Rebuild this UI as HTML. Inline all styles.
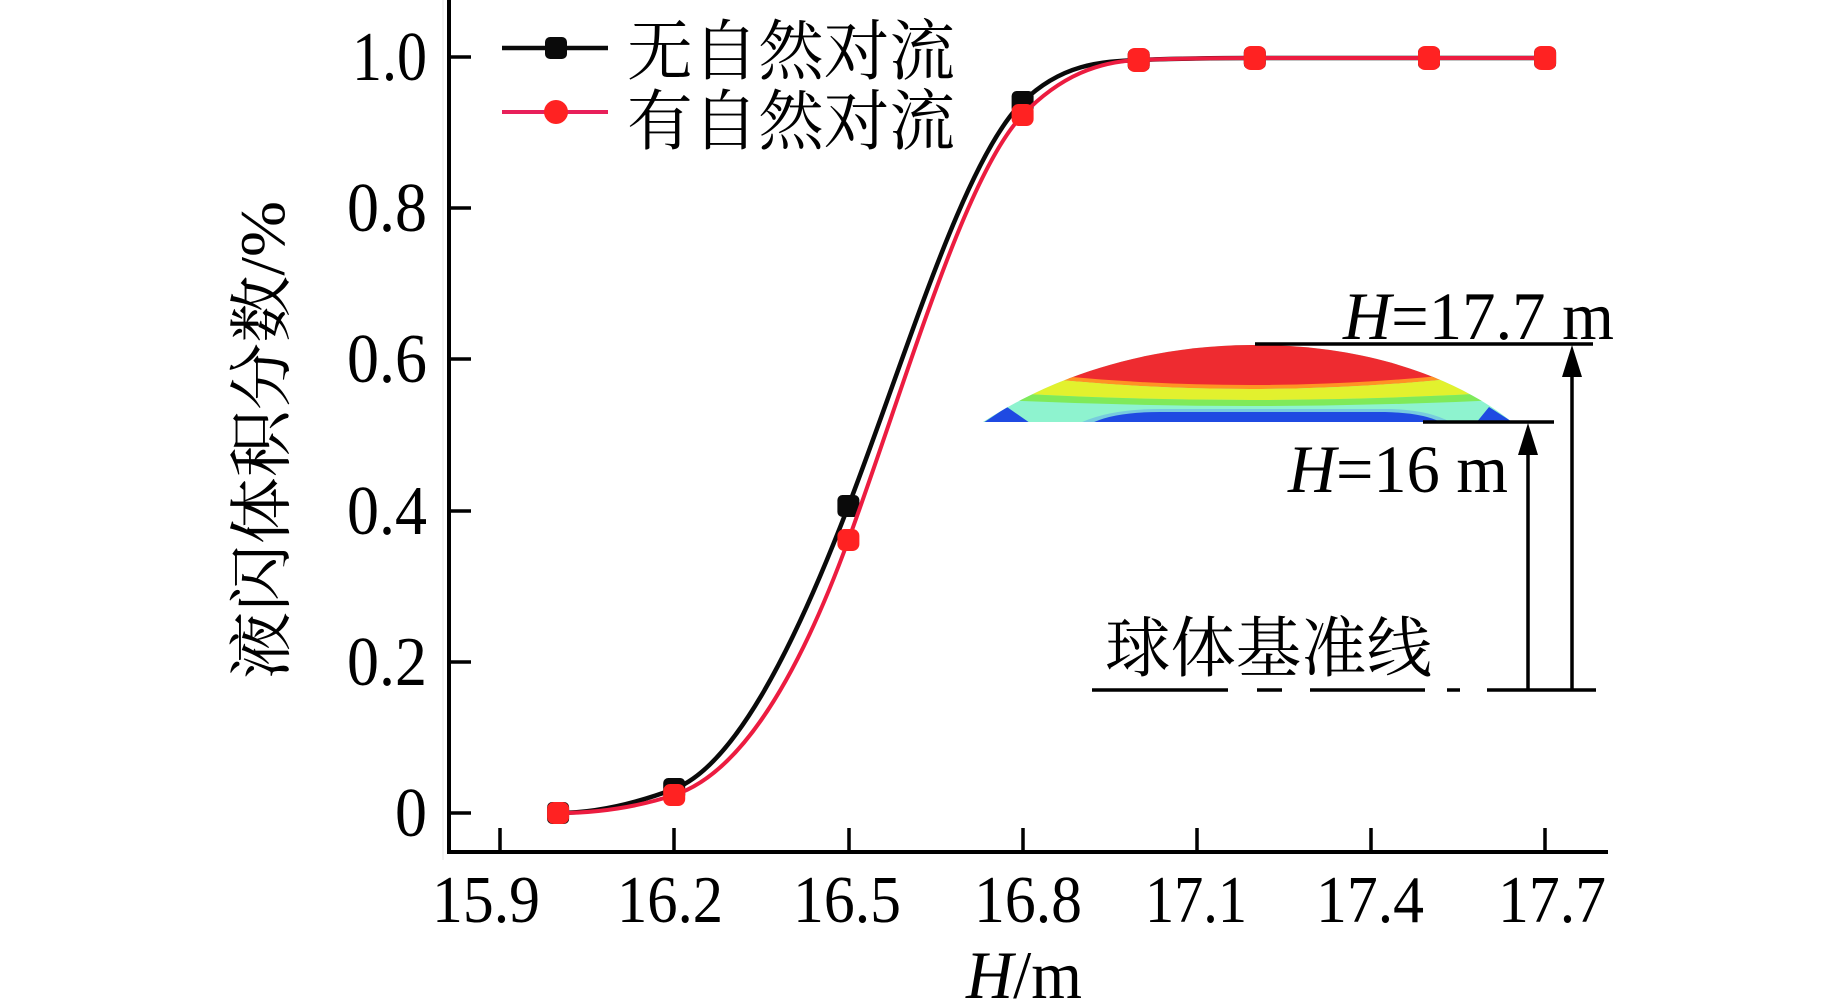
<!DOCTYPE html>
<html>
<head>
<meta charset="utf-8">
<style>
  html,body{margin:0;padding:0;background:#fff;}
  svg{display:block;}
  .num{font-family:"Liberation Serif","Times New Roman",serif;fill:#000;}
  .cjk{font-family:"Liberation Serif","Noto Serif CJK SC","Noto Sans CJK SC",serif;fill:#000;}
</style>
</head>
<body>
<svg width="1843" height="1004" viewBox="0 0 1843 1004" xmlns="http://www.w3.org/2000/svg">
  <defs>
    <clipPath id="dome">
      <path d="M983,422 C1040,385 1130,346 1250,345 C1370,344 1460,380 1512,422 Z"/>
    </clipPath>
  </defs>
  <rect width="1843" height="1004" fill="#fff"/>

  <!-- faint frame artifact -->
  <line x1="443" y1="0" x2="443" y2="860" stroke="#ededed" stroke-width="1.5"/>

  <!-- axes -->
  <path d="M449,0 V852 H1608" fill="none" stroke="#000" stroke-width="4"/>
  <g stroke="#000" stroke-width="3.5">
    <line x1="449" y1="57" x2="471" y2="57"/>
    <line x1="449" y1="208" x2="471" y2="208"/>
    <line x1="449" y1="359" x2="471" y2="359"/>
    <line x1="449" y1="511" x2="471" y2="511"/>
    <line x1="449" y1="662" x2="471" y2="662"/>
    <line x1="449" y1="813" x2="471" y2="813"/>
    <line x1="500" y1="852" x2="500" y2="828"/>
    <line x1="674" y1="852" x2="674" y2="828"/>
    <line x1="849" y1="852" x2="849" y2="828"/>
    <line x1="1023" y1="852" x2="1023" y2="828"/>
    <line x1="1197" y1="852" x2="1197" y2="828"/>
    <line x1="1371" y1="852" x2="1371" y2="828"/>
    <line x1="1545" y1="852" x2="1545" y2="828"/>
  </g>

  <!-- y tick labels -->
  <g class="num" font-size="70" text-anchor="end">
    <text x="427" y="80" textLength="75" lengthAdjust="spacingAndGlyphs">1.0</text>
    <text x="427" y="231" textLength="80" lengthAdjust="spacingAndGlyphs">0.8</text>
    <text x="427" y="382" textLength="80" lengthAdjust="spacingAndGlyphs">0.6</text>
    <text x="427" y="534" textLength="80" lengthAdjust="spacingAndGlyphs">0.4</text>
    <text x="427" y="685" textLength="80" lengthAdjust="spacingAndGlyphs">0.2</text>
    <text x="427" y="836" textLength="32" lengthAdjust="spacingAndGlyphs">0</text>
  </g>

  <!-- x tick labels -->
  <g class="num" font-size="67" text-anchor="middle">
    <text x="486" y="922" textLength="108" lengthAdjust="spacingAndGlyphs">15.9</text>
    <text x="670" y="922" textLength="106" lengthAdjust="spacingAndGlyphs">16.2</text>
    <text x="847" y="922" textLength="108" lengthAdjust="spacingAndGlyphs">16.5</text>
    <text x="1028" y="922" textLength="108" lengthAdjust="spacingAndGlyphs">16.8</text>
    <text x="1196" y="922" textLength="102" lengthAdjust="spacingAndGlyphs">17.1</text>
    <text x="1370" y="922" textLength="108" lengthAdjust="spacingAndGlyphs">17.4</text>
    <text x="1552" y="922" textLength="108" lengthAdjust="spacingAndGlyphs">17.7</text>
  </g>

  <!-- axis titles -->
  <text class="num" x="966" y="998" font-size="68" textLength="116" lengthAdjust="spacingAndGlyphs"><tspan font-style="italic">H</tspan>/m</text>
  <text class="cjk" transform="translate(284,679) rotate(-90)" font-size="64" textLength="478" lengthAdjust="spacingAndGlyphs">液闪体积分数/%</text>

  <!-- inset dome -->
  <g clip-path="url(#dome)">
    <rect x="970" y="330" width="560" height="100" fill="#8ef3cf"/>
    <path d="M960,330 L1540,330 L1540,366 Q1250,408 960,366 Z" fill="#ee2b30"/>
    <path d="M960,366 Q1250,408 1540,366" fill="none" stroke="#ff9324" stroke-width="4"/>
    <path d="M960,368 Q1250,410 1540,368 L1540,390 Q1250,410 960,390 Z" fill="#e2f12e"/>
    <path d="M960,390 Q1250,410 1540,390 L1540,398 Q1250,414 960,398 Z" fill="#7fea5a"/>
    <path d="M1080,423 Q1110,409 1160,409 L1390,409 Q1430,410 1452,423 Z" fill="#5a9cf0" opacity="0.45"/>
    <path d="M1092,423 Q1115,412 1160,412 L1385,412 Q1425,413 1442,423 Z" fill="#1f4ae2"/>
    <polygon points="983,423 1007,407 1030,423" fill="#1f4ae2"/>
    <polygon points="1476,423 1489,407 1514,423" fill="#1f4ae2"/>
  </g>

  <!-- inset reference lines -->
  <g stroke="#000" stroke-width="3.5" fill="none">
    <line x1="1255" y1="344" x2="1593" y2="344"/>
    <line x1="1423" y1="422" x2="1554" y2="422"/>
    <line x1="1092" y1="690" x2="1228" y2="690"/>
    <line x1="1257" y1="690" x2="1282" y2="690"/>
    <line x1="1310" y1="690" x2="1425" y2="690"/>
    <line x1="1447" y1="690" x2="1460" y2="690"/>
    <line x1="1487" y1="690" x2="1596" y2="690"/>
    <line x1="1528" y1="690" x2="1528" y2="448"/>
    <line x1="1572" y1="690" x2="1572" y2="370"/>
  </g>
  <polygon points="1528,423 1518,455 1538,455" fill="#000"/>
  <polygon points="1572,345 1562,377 1582,377" fill="#000"/>

  <text class="num" x="1343" y="339" font-size="68" textLength="271" lengthAdjust="spacingAndGlyphs"><tspan font-style="italic">H</tspan>=17.7 m</text>
  <text class="num" x="1288" y="492" font-size="68" textLength="220" lengthAdjust="spacingAndGlyphs"><tspan font-style="italic">H</tspan>=16 m</text>
  <text class="cjk" x="1105" y="671" font-size="66" textLength="327" lengthAdjust="spacingAndGlyphs">球体基准线</text>

  <!-- black series -->
  <path d="M558.1,813 C596.8,813 635.5,803.5 674.2,789 C732.3,766.3 790.3,657.2 848.4,506 C906.5,354.8 964.5,158.7 1022.6,102 C1061.3,64.2 1100,61.5 1138.7,60 C1177.4,58.5 1216.1,58 1254.8,58 L1545.1,58" fill="none" stroke="#0a0a0a" stroke-width="4.5"/>
  <g fill="#0a0a0a">
    <rect x="547.1" y="802" width="22" height="22" rx="5"/>
    <rect x="663.2" y="778" width="22" height="22" rx="5"/>
    <rect x="837.4" y="495" width="22" height="22" rx="5"/>
    <rect x="1011.6" y="91" width="22" height="22" rx="5"/>
    <rect x="1127.7" y="49" width="22" height="22" rx="5"/>
    <rect x="1243.8" y="47" width="22" height="22" rx="5"/>
    <rect x="1418" y="47" width="22" height="22" rx="5"/>
    <rect x="1534.1" y="47" width="22" height="22" rx="5"/>
  </g>

  <!-- red series -->
  <path d="M558.1,813 C596.8,813 635.5,807.6 674.2,795 C732.3,776.1 790.3,698.8 848.4,540 C906.5,381.2 964.5,175.5 1022.6,115 C1061.3,74.7 1100,61.5 1138.7,60 C1177.4,58.5 1216.1,58 1254.8,58 L1545.1,58" fill="none" stroke="#ec1c40" stroke-width="4"/>
  <g fill="#ff2222">
    <rect x="547.1" y="802" width="22" height="22" rx="7"/>
    <rect x="663.2" y="784" width="22" height="22" rx="7"/>
    <rect x="837.4" y="529" width="22" height="22" rx="7"/>
    <rect x="1011.6" y="104" width="22" height="22" rx="7"/>
    <rect x="1127.7" y="48" width="22" height="24" rx="7"/>
    <rect x="1243.8" y="46" width="22" height="24" rx="7"/>
    <rect x="1418" y="46" width="22" height="24" rx="7"/>
    <rect x="1534.1" y="46" width="22" height="24" rx="7"/>
  </g>

  <!-- legend -->
  <line x1="502" y1="48" x2="608" y2="48" stroke="#0a0a0a" stroke-width="4.5"/>
  <rect x="545" y="37" width="22" height="22" rx="5" fill="#0a0a0a"/>
  <line x1="502" y1="112" x2="608" y2="112" stroke="#e8205a" stroke-width="4"/>
  <circle cx="556" cy="112" r="12" fill="#ff2222"/>
  <text class="cjk" x="627" y="74" font-size="66" textLength="328" lengthAdjust="spacingAndGlyphs">无自然对流</text>
  <text class="cjk" x="627" y="144" font-size="66" textLength="328" lengthAdjust="spacingAndGlyphs">有自然对流</text>
</svg>
</body>
</html>
